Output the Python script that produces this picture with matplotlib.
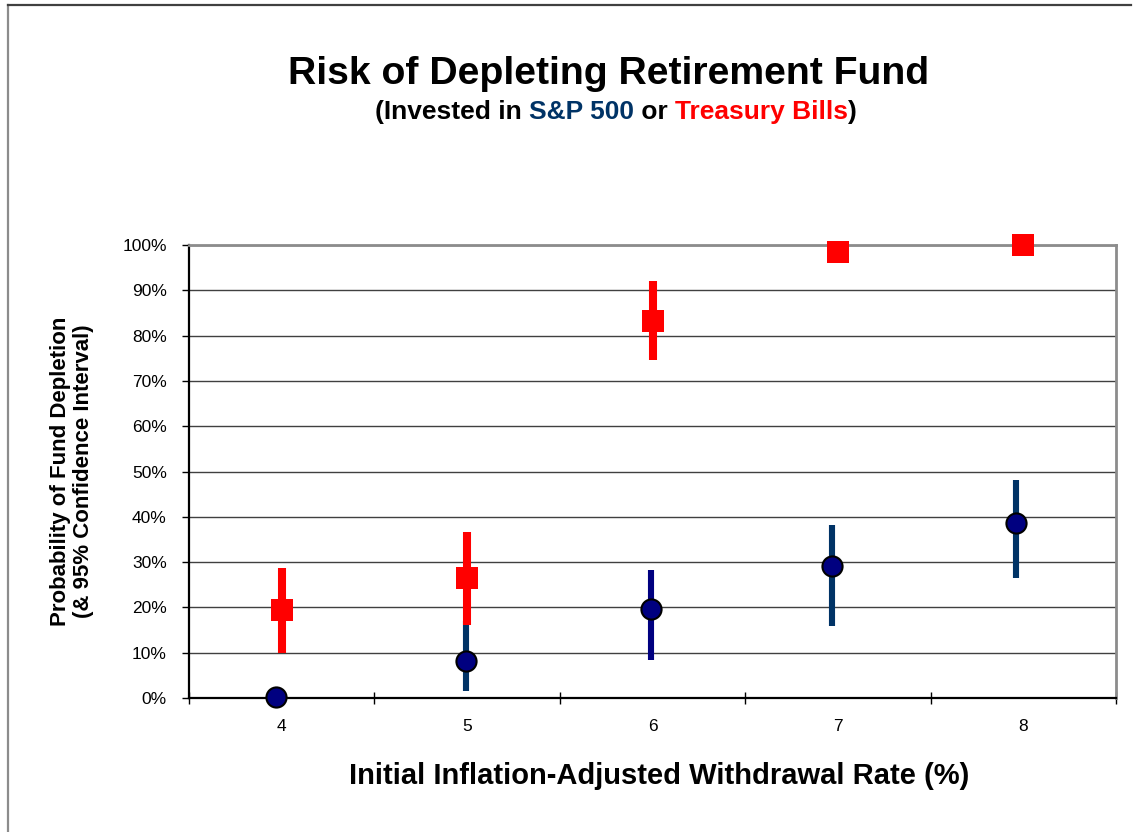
import matplotlib.pyplot as plt
from matplotlib.lines import Line2D
from matplotlib.ticker import FixedLocator, PercentFormatter

plt.rcParams['font.family'] = ['Liberation Sans', 'DejaVu Sans']

W, H = 1135, 832

# withdrawal rates (%)
rates = [4, 5, 6, 7, 8]
# S&P 500 points sit a touch left of the category centre in the original
sp_x = [3.97, 4.995, 5.99, 6.97, 7.96]
sp_prob = [0.3, 8.2, 19.6, 29.1, 38.7]
sp_lo = [0.3, 1.5, 8.4, 15.8, 26.4]
sp_hi = [0.3, 17.0, 28.2, 38.3, 48.1]
sp_bar_colors = ['#000080', '#003366', '#000080', '#003366', '#003366']

tb_prob = [19.4, 26.4, 83.3, 98.5, 100.0]
tb_lo = [10.0, 16.1, 74.7, 96.0, 100.0]
tb_hi = [28.6, 36.6, 92.1, 100.0, 100.0]

yticks = list(range(0, 101, 10))

fig = plt.figure(figsize=(W / 100, H / 100), dpi=100)
ax = fig.add_axes([189 / W, 1 - 698 / H, (1116 - 189) / W, (698 - 245) / H])

# S&P 500 confidence bars
for x, lo, hi, c in zip(sp_x, sp_lo, sp_hi, sp_bar_colors):
    ax.vlines(x, lo, hi, colors=c, linewidth=4.4, zorder=3)

# Treasury bills: bars then squares
ax.vlines(rates, tb_lo, tb_hi, colors='#ff0000', linewidth=5.8, zorder=4)
ax.plot(rates, tb_prob, linestyle='none', marker='s', markersize=16.5,
        color='#ff0000', markeredgewidth=0, zorder=5, clip_on=False)

# S&P 500 circles
ax.plot(sp_x, sp_prob, linestyle='none', marker='o', markersize=14.5,
        markerfacecolor='#000080', markeredgecolor='black', markeredgewidth=1.5,
        zorder=6, clip_on=False)

ax.set_xlim(3.5, 8.5)
ax.set_ylim(0, 100)
ax.xaxis.set_major_locator(FixedLocator([3.5, 4.5, 5.5, 6.5, 7.5, 8.5]))
ax.xaxis.set_minor_locator(FixedLocator(rates))
ax.set_xticklabels([])
ax.set_xticklabels([str(r) for r in rates], minor=True)
ax.tick_params(axis='x', which='major', direction='inout', length=9, width=1, color='black')
ax.tick_params(axis='x', which='minor', length=0, pad=15, labelsize=12.5)
ax.set_yticks(yticks)
ax.yaxis.set_major_formatter(PercentFormatter(decimals=0))
ax.tick_params(axis='y', direction='out', length=5, width=1, pad=11, labelsize=12.5)

ax.grid(axis='y', color='#404040', linewidth=1)
ax.set_axisbelow(True)
for side in ('left', 'bottom'):
    ax.spines[side].set_color('black')
    ax.spines[side].set_linewidth(1.6)
for side in ('top', 'right'):
    ax.spines[side].set_color('#8c8c8c')
    ax.spines[side].set_linewidth(2)

fig.text(609 / W, 1 - 83.5 / H, 'Risk of Depleting Retirement Fund',
         ha='center', va='baseline', fontsize=28.2, fontweight='bold')

# multi-coloured subtitle, laid out piece by piece then centred
pieces = [('(Invested in ', 'black'), ('S&P 500', '#003366'), (' or ', 'black'),
          ('Treasury Bills', '#ff0000'), (')', 'black')]
sub_y = 1 - 119 / H
texts = [fig.text(0, sub_y, s, ha='left', va='baseline', fontsize=19,
                  fontweight='bold', color=c) for s, c in pieces]
fig.canvas.draw()
r = fig.canvas.get_renderer()
widths = [t.get_window_extent(r).width for t in texts]
x0 = 616 - sum(widths) / 2
for t, w in zip(texts, widths):
    t.set_position((x0 / W, sub_y))
    x0 += w

fig.text(659 / W, 1 - 783.5 / H, 'Initial Inflation-Adjusted Withdrawal Rate (%)',
         ha='center', va='baseline', fontsize=21, fontweight='bold')

ylabel_lines = ['Probability of Fund Depletion', '(& 95% Confidence Interval)']
for line, bx in zip(ylabel_lines, [66, 89]):
    fig.text(bx / W, 1 - 471.5 / H, line, rotation=90, rotation_mode='anchor',
             ha='center', va='baseline', fontsize=16, fontweight='bold')

# outer chart frame (left and top edges visible)
fig.add_artist(Line2D([8 / W, 8 / W], [0, 1 - 5 / H], color='#8c8c8c', linewidth=1.6))
fig.add_artist(Line2D([8 / W, 1131 / W], [1 - 5 / H, 1 - 5 / H], color='#404040', linewidth=1.6))

fig.savefig('out.png', dpi=100)
